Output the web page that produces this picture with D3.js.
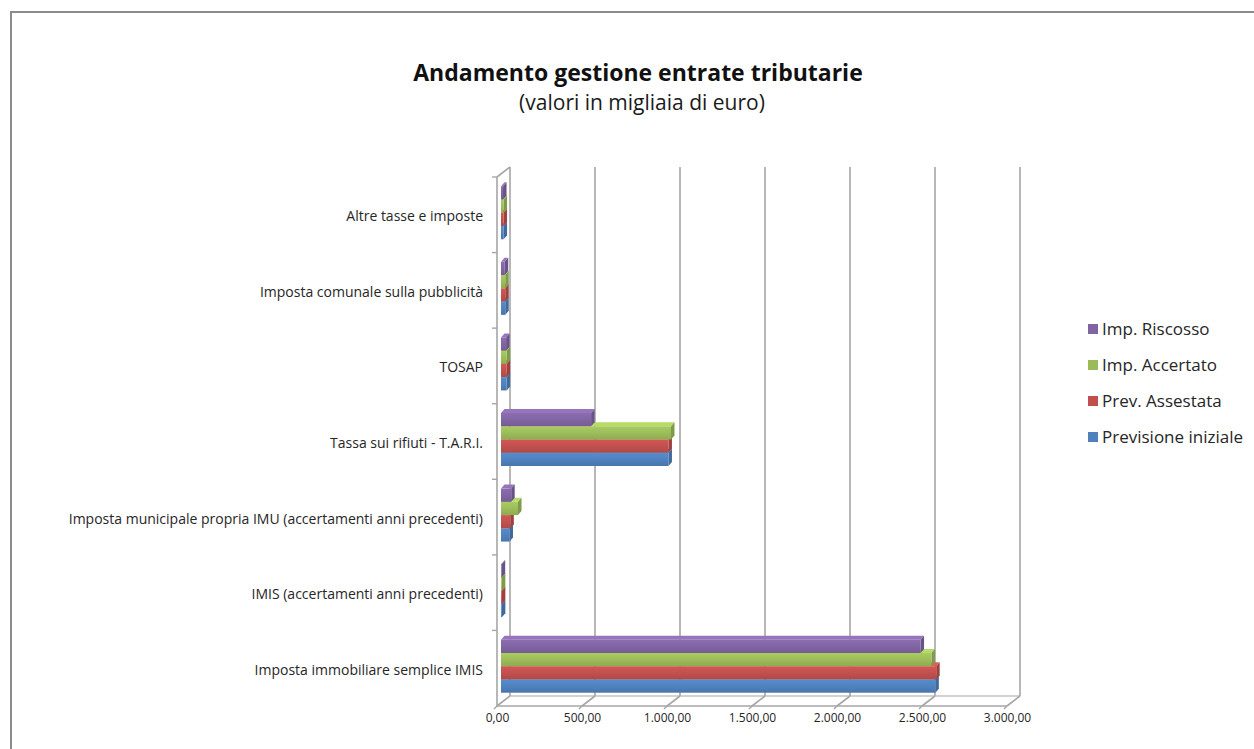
<!DOCTYPE html>
<html>
<head>
<meta charset="utf-8">
<script src="https://cdn.jsdelivr.net/npm/d3@7"></script>
<style>
  html, body { margin: 0; padding: 0; background: #fff; }
  svg { display: block; }
</style>
</head>
<body>
<svg id="chart" width="1254" height="749"></svg>
<script>
// ---------- DATA ----------
const categories = [
  "Imposta immobiliare semplice IMIS",
  "IMIS (accertamenti anni precedenti)",
  "Imposta municipale propria IMU (accertamenti anni precedenti)",
  "Tassa sui rifiuti - T.A.R.I.",
  "TOSAP",
  "Imposta comunale sulla pubblicità",
  "Altre tasse e imposte"
];
const seriesNames = ["Previsione iniziale", "Prev. Assestata", "Imp. Accertato", "Imp. Riscosso"];
const previsioneIniziale = [2555, 5, 50, 985, 33, 25, 15];
const prevAssestata      = [2560, 5, 55, 985, 33, 25, 15];
const impAccertato       = [2532, 5, 100, 1000, 33, 25, 15];
const impRiscosso        = [2468, 4, 60, 530, 30, 22, 12];
const seriesColors = ["#4F81BD", "#C0504D", "#9BBB59", "#8064A2"];
const xTickValues = [0, 500, 1000, 1500, 2000, 2500, 3000];
const titleText = "Andamento gestione entrate tributarie";
const subtitleText = "(valori in migliaia di euro)";

const seriesValues = [previsioneIniziale, prevAssestata, impAccertato, impRiscosso];

// ---------- LAYOUT ----------
const svg = d3.select("#chart");
const itLocale = d3.formatLocale({decimal: ",", thousands: ".", grouping: [3], currency: ["€", ""]});
const fmt = itLocale.format(",.2f");

const FONT = "'Open Sans', 'DejaVu Sans', sans-serif";
const gridColor = "#a6a6a6";
const textColor = "#262626";

// outer frame
svg.append("rect")
  .attr("x", 11).attr("y", 12).attr("width", 1260).attr("height", 760)
  .attr("fill", "#fff").attr("stroke", "#8c8c8c").attr("stroke-width", 2);

// titles
svg.append("text").attr("x", 638).attr("y", 81)
  .attr("text-anchor", "middle").attr("font-family", FONT)
  .attr("font-weight", "bold").attr("font-size", 23).attr("fill", "#111")
  .text(titleText);
svg.append("text").attr("x", 642).attr("y", 110)
  .attr("text-anchor", "middle").attr("font-family", FONT)
  .attr("font-size", 21).attr("fill", "#1a1a1a")
  .text(subtitleText);

// scales (front plane)
const x = d3.scaleLinear().domain([0, 3000]).range([497, 1007]);
const y = d3.scaleBand().domain(categories).range([706, 177]);
const DX = 13, DY = -10;          // depth vector front -> back wall
const yTop = 177, yBot = 706;

// back wall gridlines
const g = svg.append("g");
g.selectAll("line.grid").data(xTickValues).join("line")
  .attr("class", "grid")
  .attr("x1", d => x(d) + DX).attr("x2", d => x(d) + DX)
  .attr("y1", yTop + DY).attr("y2", yBot + DY)
  .attr("stroke", gridColor).attr("stroke-width", 1.6);

// floor back edge
g.append("line").attr("x1", x(0) + DX).attr("x2", x(3000) + DX)
  .attr("y1", yBot + DY).attr("y2", yBot + DY)
  .attr("stroke", gridColor).attr("stroke-width", 1.2);

// left wall front edge + top slant
g.append("line").attr("x1", x(0)).attr("x2", x(0)).attr("y1", yTop).attr("y2", yBot)
  .attr("stroke", gridColor).attr("stroke-width", 1.6);
g.append("line").attr("x1", x(0)).attr("x2", x(0) + DX).attr("y1", yTop).attr("y2", yTop + DY)
  .attr("stroke", gridColor).attr("stroke-width", 1.6);

// category boundary ticks
const bounds = categories.map(c => y(c)).filter(v => v > yTop + 1).concat([yTop]);
g.selectAll("line.ctick").data(bounds).join("line")
  .attr("x1", x(0) - 5).attr("x2", x(0)).attr("y1", d => d).attr("y2", d => d)
  .attr("stroke", gridColor).attr("stroke-width", 1.4);

// floor front edge & diagonal ticks
g.append("line").attr("x1", x(0)).attr("x2", x(3000)).attr("y1", yBot).attr("y2", yBot)
  .attr("stroke", gridColor).attr("stroke-width", 1.6);
g.selectAll("line.xdiag").data(xTickValues).join("line")
  .attr("x1", d => x(d)).attr("x2", d => x(d) + DX)
  .attr("y1", yBot).attr("y2", yBot + DY)
  .attr("stroke", gridColor).attr("stroke-width", 1.6);
g.selectAll("line.xtick").data(xTickValues).join("line")
  .attr("x1", d => x(d)).attr("x2", d => x(d) - 3)
  .attr("y1", yBot).attr("y2", yBot + 3)
  .attr("stroke", gridColor).attr("stroke-width", 1.4);

// x axis labels
const xAxis = d3.axisBottom(x).tickValues(xTickValues).tickFormat(fmt).tickSize(0).tickPadding(7);
const xa = svg.append("g").attr("transform", `translate(0,${yBot})`).call(xAxis);
xa.select(".domain").remove();
xa.selectAll("text").attr("font-family", FONT).attr("font-size", 12).attr("fill", textColor);

// y axis labels
const yAxis = d3.axisLeft(y).tickSize(0).tickPadding(14);
const ya = svg.append("g").attr("transform", `translate(${x(0)},2)`).call(yAxis);
ya.select(".domain").remove();
ya.selectAll("text").attr("font-family", FONT).attr("font-size", 14).attr("fill", textColor);

// ---------- BARS (3D) ----------
const FX = 4, FY = -2;      // front face offset from front plane
const BDX = 3.5, BDY = -4;  // bar depth projection
const groupH = 53;
const sub = d3.scaleBand().domain([3, 2, 1, 0]).range([0, groupH]); // series index top->bottom

const bars = svg.append("g");
// draw bottom series first so upper bars cover lower bars' top faces
[0, 1, 2, 3].forEach(si => {
  const base = d3.color(seriesColors[si]);
  const topCol = base.brighter(0.45).formatHex();
  const sideCol = base.darker(0.55).formatHex();
  const gid = "grad" + si;
  const grad = svg.append("defs").append("linearGradient").attr("id", gid)
    .attr("x1", 0).attr("y1", 0).attr("x2", 0).attr("y2", 1);
  grad.append("stop").attr("offset", "0%").attr("stop-color", base.brighter(0.25).formatHex());
  grad.append("stop").attr("offset", "55%").attr("stop-color", base.formatHex());
  grad.append("stop").attr("offset", "100%").attr("stop-color", base.darker(0.25).formatHex());

  const data = categories.map((c, i) => ({c, v: seriesValues[si][i]}));
  const gs = bars.append("g");
  const geom = d => {
    const x0 = x(0) + FX, x1 = x(d.v) + FX;
    const y0 = y(d.c) + (y.bandwidth() - groupH) / 2 + FY + sub(si);
    const h = sub.bandwidth();
    return {x0, x1, y0, h};
  };
  // top face
  gs.selectAll("path.top").data(data).join("path")
    .attr("d", d => {
      const b = geom(d);
      return `M${b.x0},${b.y0}L${b.x0 + BDX},${b.y0 + BDY}L${b.x1 + BDX},${b.y0 + BDY}L${b.x1},${b.y0}Z`;
    }).attr("fill", topCol);
  // side face
  gs.selectAll("path.side").data(data).join("path")
    .attr("d", d => {
      const b = geom(d);
      return `M${b.x1},${b.y0}L${b.x1 + BDX},${b.y0 + BDY}L${b.x1 + BDX},${b.y0 + b.h + BDY}L${b.x1},${b.y0 + b.h}Z`;
    }).attr("fill", sideCol);
  // front face
  gs.selectAll("rect.front").data(data).join("rect")
    .attr("x", d => geom(d).x0).attr("y", d => geom(d).y0)
    .attr("width", d => Math.max(0, geom(d).x1 - geom(d).x0))
    .attr("height", d => geom(d).h)
    .attr("fill", `url(#${gid})`);
});

// ---------- LEGEND ----------
const legendOrder = [3, 2, 1, 0];
const leg = svg.append("g");
const ly = d3.scalePoint().domain(legendOrder).range([329, 437]);
legendOrder.forEach(si => {
  leg.append("rect").attr("x", 1088).attr("y", ly(si) - 5).attr("width", 10).attr("height", 10)
    .attr("fill", seriesColors[si]);
  leg.append("text").attr("x", 1102).attr("y", ly(si)).attr("dy", "0.35em")
    .attr("font-family", FONT).attr("font-size", 17).attr("fill", textColor)
    .text(seriesNames[si]);
});
</script>
</body>
</html>
